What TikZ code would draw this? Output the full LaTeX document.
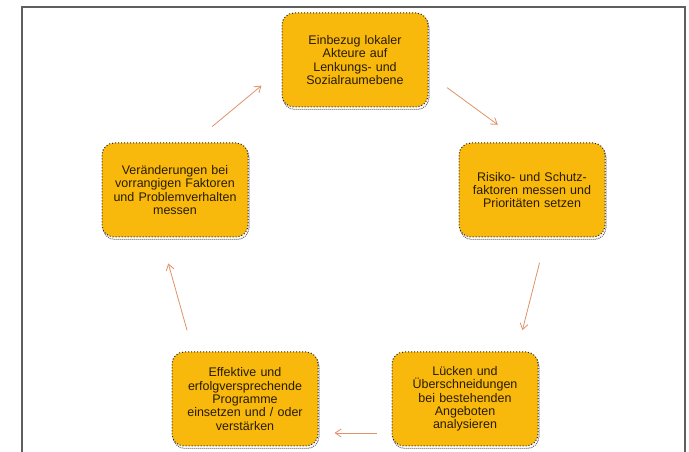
\documentclass[tikz,border=0pt]{standalone}
\usepackage{fontspec}
\setmainfont{Liberation Sans}
\usetikzlibrary{arrows.meta,shadows}
\definecolor{stagefill}{RGB}{249,185,12}
\definecolor{stagetext}{RGB}{40,28,0}
\definecolor{cyclecol}{RGB}{226,145,105}
\definecolor{framecol}{RGB}{95,95,95}
\tikzset{
  stage/.style={rounded corners=12pt, fill=stagefill, draw=black!85, dotted, line width=1pt,
    minimum width=145pt, minimum height=94pt, text width=142pt, align=center, inner sep=2pt,
    text=stagetext, font=\fontsize{12.5}{13.3}\selectfont,
    drop shadow={shadow xshift=1pt, shadow yshift=-2.5pt, fill=none, draw=black!60, densely dotted, opacity=1}},
  cyclearrow/.style={draw=cyclecol, line width=0.8pt, -{Straight Barb[length=6pt,width=8pt]}}
}
\begin{document}
\begin{tikzpicture}[x=1pt,y=1pt]
			\useasboundingbox (0,0) rectangle (689,452);
			\fill[white] (0,0) rectangle (689,452);
			\draw[framecol, line width=1.5pt] (22,-5) -- (22,445) -- (685,445) -- (685,-5);
			\node[stage] (einbezug) at (355,392) {Einbezug lokaler\\Akteure auf\\Lenkungs- und\\Sozialraumebene};
			\node[stage] (risiko) at (532,262) {Risiko- und Schutz-\\faktoren messen und\\Prioritäten setzen};
			\node[stage] (luecken) at (465,53) {Lücken und\\Überschneidungen\\bei bestehenden\\Angeboten\\analysieren};
			\node[stage] (programme) at (245,53) {Effektive und\\erfolgversprechende\\Programme\\einsetzen und / oder\\verstärken};
			\node[stage] (veraenderung) at (175,262) {Veränderungen bei\\vorrangigen Faktoren\\und Problemverhalten\\messen};
			\draw[cyclearrow, shorten <=25pt, shorten >=26pt] ([xshift=18pt]veraenderung.north) -- ([yshift=-9pt]einbezug.west);
			\draw[cyclearrow, shorten <=23pt, shorten >=30pt] ([yshift=-14pt]einbezug.east) -- ([xshift=-10pt]risiko.north);
			\draw[cyclearrow, shorten <=26pt, shorten >=22pt] ([xshift=14pt]risiko.south) -- ([xshift=52pt]luecken.north);
			\draw[cyclearrow, shorten <=15pt, shorten >=16pt] ([yshift=-34pt]luecken.west) -- ([yshift=-34pt]programme.east);
			\draw[cyclearrow, shorten <=22pt, shorten >=27pt] ([xshift=-52pt]programme.north) -- ([xshift=-14pt]veraenderung.south);
		\end{tikzpicture}
\end{document}
